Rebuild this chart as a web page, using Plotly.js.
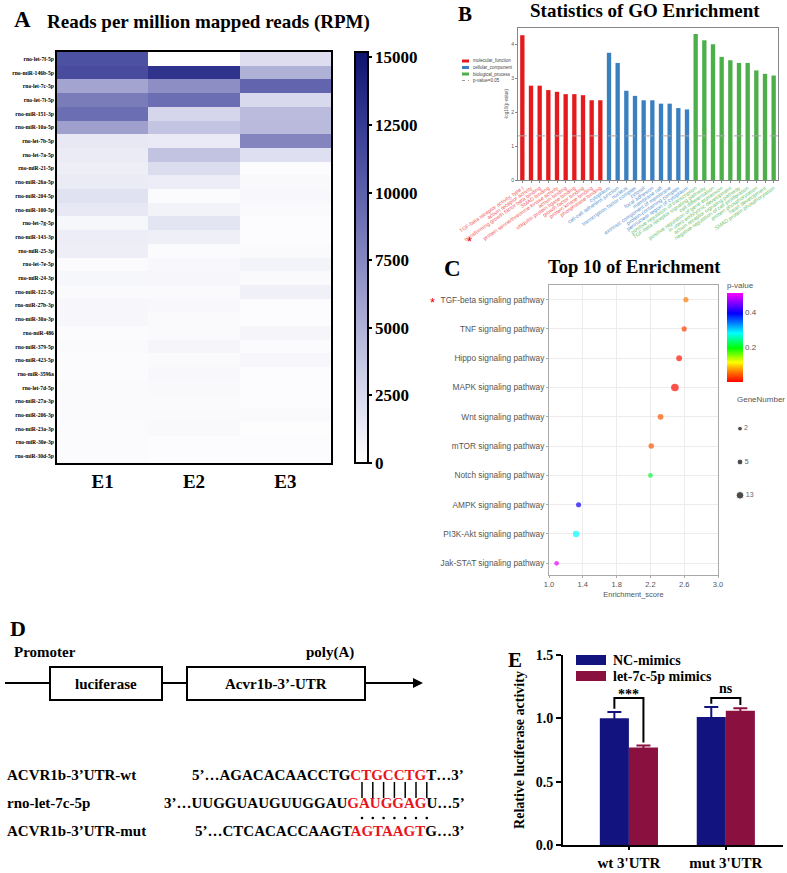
<!DOCTYPE html>
<html><head><meta charset="utf-8">
<script src="https://cdn.plot.ly/plotly-3.0.1.min.js"></script>
<style>html,body{margin:0;padding:0;background:#fff}#chart{width:787px;height:873px}</style>
</head><body><div id="chart"></div>
<script>
// ---------------- DATA ----------------
const mirnas = ['rno-let-7f-5p','rno-miR-146b-5p','rno-let-7c-5p','rno-let-7i-5p','rno-miR-151-3p','rno-miR-10a-5p','rno-let-7b-5p','rno-let-7a-5p','rno-miR-21-5p','rno-miR-26a-5p','rno-miR-204-5p','rno-miR-100-5p','rno-let-7g-5p','rno-miR-143-3p','rno-miR-25-3p','rno-let-7e-5p','rno-miR-24-3p','rno-miR-122-5p','rno-miR-27b-3p','rno-miR-30a-3p','rno-miR-486','rno-miR-379-5p','rno-miR-423-5p','rno-miR-3596a','rno-let-7d-5p','rno-miR-27a-3p','rno-miR-206-3p','rno-miR-23a-3p','rno-miR-30e-3p','rno-miR-30d-5p'];
const samples = ['E1','E2','E3'];
const rpmE1 = [11000,11300,5800,8200,9100,6000,1500,1300,1100,1300,1900,1500,550,1200,1100,250,550,300,600,600,250,300,250,250,300,300,300,250,250,250];
const rpmE2 = [0,13000,7100,9100,2700,3800,1400,3900,2300,1200,250,800,1700,1050,250,450,500,300,450,300,300,650,300,450,400,350,300,400,200,200];
const rpmE3 = [2200,5000,9700,2500,4300,4400,7600,2100,200,400,450,350,200,200,350,750,300,1000,200,200,650,250,500,200,200,200,300,150,200,200];
const rpmTicks = [0,2500,5000,7500,10000,12500,15000];

const goTermsMF = ['TGF-beta receptor activity, type I','activin receptor activity','transforming growth factor beta binding','SMAD binding','protein serine/threonine kinase activity','activin binding','ubiquitin protein ligase binding','growth factor binding','protein kinase binding','phosphatase binding'];
const goValsMF = [4.27,2.78,2.78,2.65,2.60,2.53,2.53,2.50,2.35,2.35];
const goTermsCC = ['cytoplasm','cell-cell adherens junction','nucleus','transcription factor complex','cytosol','focal adhesion','membrane raft','extrinsic component of membrane','protein-containing complex','perinuclear region of cytoplasm'];
const goValsCC = [3.75,3.45,2.63,2.48,2.35,2.35,2.25,2.25,2.12,2.08];
const goTermsBP = ['positive regulation of transcription','TGF-beta receptor signaling pathway','cell differentiation','positive regulation of gene expression','in utero embryonic development','activin receptor signaling pathway','negative regulation of cell proliferation','protein phosphorylation','heart development','SMAD protein phosphorylation'];
const goValsBP = [4.30,4.12,4.00,3.63,3.53,3.45,3.45,3.23,3.13,3.08];
const goLegend = ['molecular_function','cellular_component','biological_process','p-value=0.05'];
const goThreshold = 1.3;

const pathways = ['TGF-beta signaling pathway','TNF signaling pathway','Hippo signaling pathway','MAPK signaling pathway','Wnt signaling pathway','mTOR signaling pathway','Notch signaling pathway','AMPK signaling pathway','PI3K-Akt signaling pathway','Jak-STAT signaling pathway'];
const enrichScore = [2.62,2.60,2.54,2.49,2.32,2.21,2.20,1.35,1.32,1.09];
const pathwayP = [0.06,0.03,0.01,0.005,0.04,0.04,0.21,0.40,0.28,0.50];
const geneNumber = [3,3,5,13,5,4,2,3,7,2];
const geneLegend = [2,5,13];
const enrichTicks = [1.0,1.4,1.8,2.2,2.6,3.0];
const pTicks = [0.2,0.4];

const lucGroups = ["wt 3'UTR","mut 3'UTR"];
const ncMean = [1.00,1.01];
const ncErr = [0.05,0.08];
const letMean = [0.77,1.06];
const letErr = [0.015,0.02];
const sigLabels = ['***','ns'];
const lucTicks = [0,0.5,1.0,1.5];

// ---------------- LAYOUT HELPERS ----------------
const W=787,H=873;
const X=p=>p/W, Y=p=>1-p/H;
const serif='Liberation Serif, Times New Roman, serif';
const sans='Liberation Sans, Arial, sans-serif';
const bf=(size,color)=>({family:serif,size:size,color:color||'#000',weight:'bold'});
const navy='#13137f', maroon='#8a1040';
const goColors=['#e41a1c','#3a80c0','#4daf4a'];
const goTextColors=['#f05a5c','#5b95d0','#6cc26a'];

const traces=[];
// A heatmap
traces.push({type:'heatmap',x:samples,y:mirnas,
  z:mirnas.map((m,i)=>[rpmE1[i],rpmE2[i],rpmE3[i]]),
  xaxis:'x',yaxis:'y',zmin:0,zmax:15200,
  colorscale:[[0,'#ffffff'],[0.164,'#d8d9ed'],[0.329,'#b0b1d7'],[0.493,'#8687c0'],[0.658,'#5d60ab'],[0.822,'#363a93'],[1,'#10136e']],
  colorbar:{x:X(355),xanchor:'left',xpad:0,y:Y(463),yanchor:'bottom',ypad:0,len:(463-52)/H,
    thickness:13,outlinewidth:2,outlinecolor:'#000',ticks:'outside',ticklen:3,tickwidth:2,tickcolor:'#000',
    tickvals:rpmTicks,ticktext:rpmTicks.map(String),tickfont:bf(17)},
  hoverinfo:'skip'});

// B GO bars
const goSets=[[goTermsMF,goValsMF],[goTermsCC,goValsCC],[goTermsBP,goValsBP]];
const allTerms=[].concat(goTermsMF,goTermsCC,goTermsBP);
const allTermText=[];
goSets.forEach(([t,v],k)=>{
  traces.push({type:'bar',x:t,y:v,xaxis:'x2',yaxis:'y2',width:0.5,marker:{color:goColors[k],line:{width:0}},hoverinfo:'skip'});
  t.forEach(s=>allTermText.push('<span style="color:'+goTextColors[k]+'">'+s+'</span>'));
});

// C enrichment scatter
const dot=n=>2.8+1.35*Math.sqrt(n);
traces.push({type:'scatter',mode:'markers',x:enrichScore,y:pathways,xaxis:'x3',yaxis:'y3',
  marker:{color:pathwayP,cmin:0,cmax:0.51,
    colorscale:[[0,'#ff0000'],[0.12,'#ff8000'],[0.22,'#ffff00'],[0.38,'#00ff00'],[0.55,'#00ffff'],[0.77,'#0000ff'],[1,'#ff00ff']],
    size:geneNumber.map(dot),line:{width:0},
    colorbar:{x:X(727),xanchor:'left',xpad:0,y:Y(382),yanchor:'bottom',ypad:0,len:(382-279)/H,thickness:16,
      outlinewidth:0,ticks:'',tickvals:pTicks,ticktext:pTicks.map(String),tickfont:{family:sans,size:8,color:'#555'},
      title:{text:'p-value',side:'top',font:{family:sans,size:8,color:'#555'}}}},
  hoverinfo:'skip'});
traces.push({type:'scatter',mode:'markers+text',x:geneLegend.map(()=>0),y:geneLegend.map(String),xaxis:'x4',yaxis:'y4',
  marker:{color:'#000',size:geneLegend.map(dot)},text:geneLegend.map(String),textposition:'middle right',
  textfont:{family:sans,size:7,color:'#666'},hoverinfo:'skip'});

// E luciferase bars
const lucX=lucGroups.map((g,i)=>i);
traces.push({type:'bar',x:lucX,y:ncMean,xaxis:'x5',yaxis:'y5',offset:-0.3,width:0.3,marker:{color:navy},
  error_y:{type:'data',array:ncErr,color:navy,thickness:2,width:7},hoverinfo:'skip'});
traces.push({type:'bar',x:lucX,y:letMean,xaxis:'x5',yaxis:'y5',offset:0,width:0.3,marker:{color:maroon},
  error_y:{type:'data',array:letErr,color:maroon,thickness:2,width:7},hoverinfo:'skip'});

// ---------------- ANNOTATIONS & SHAPES ----------------
const ann=[], shapes=[];
const A=(x,y,text,font,xa,extra)=>ann.push(Object.assign({xref:'paper',yref:'paper',x:X(x),y:Y(y),text:text,font:font,showarrow:false,xanchor:xa||'center',yanchor:'middle'},extra||{}));
A(12,19,'A',bf(23),'left');
A(208,22,'Reads per million mapped reads (RPM)',bf(19));
A(456,14,'B',bf(21),'left');
A(645,11,'Statistics of GO Enrichment',bf(19));
A(442,268,'C',bf(23),'left');
A(634,267,'Top 10 of Enrichment',bf(18.5));
A(8,628,'D',bf(22),'left');
A(506,660,'E',bf(21),'left');
// red asterisks
A(470,241,'*',{family:sans,size:13,color:'#e00'});
A(432,302,'*',{family:sans,size:13,color:'#e00'});

// GO legend
goLegend.forEach((t,i)=>{
  const yy=61+i*6.5;
  A(471,yy,t,{family:sans,size:4.5,color:'#444'},'left');
  if(i<3) shapes.push({type:'rect',xref:'paper',yref:'paper',x0:X(462),x1:X(469),y0:Y(yy-1.5),y1:Y(yy+1.5),fillcolor:goColors[i],line:{width:0}});
  else shapes.push({type:'line',xref:'paper',yref:'paper',x0:X(462),x1:X(469),y0:Y(yy),y1:Y(yy),line:{color:'#999',width:1,dash:'dot'}});
});
// GO threshold
shapes.push({type:'line',xref:'x2 domain',yref:'y2',x0:0,x1:1,y0:goThreshold,y1:goThreshold,line:{color:'#aaa',width:1,dash:'dash'}});

// Gene number legend title
A(735,400,'GeneNumber',{family:sans,size:8,color:'#555'},'left');

// D construct
const L=(x0,y0,x1,y1,w)=>shapes.push({type:'line',xref:'paper',yref:'paper',x0:X(x0),y0:Y(y0),x1:X(x1),y1:Y(y1),line:{color:'#000',width:w||2}});
const R=(x0,y0,x1,y1)=>shapes.push({type:'rect',xref:'paper',yref:'paper',x0:X(x0),y0:Y(y0),x1:X(x1),y1:Y(y1),line:{color:'#000',width:2},fillcolor:'rgba(0,0,0,0)'});
L(5,683,50,683); R(50,667,162,700); L(162,683,187,683); R(187,667,365,700);
ann.push({xref:'paper',yref:'paper',x:X(423),y:Y(683),ax:-59,ay:0,text:'',showarrow:true,arrowhead:2,arrowsize:1,arrowwidth:2,arrowcolor:'#000'});
A(12,652,'Promoter',bf(15),'left');
A(304,652,'poly(A)',bf(15),'left');
A(106,684,'luciferase',bf(15));
A(276,684,'Acvr1b-3’-UTR',bf(15));
const red=s=>'<span style="color:#e8141b">'+s+'</span>';
A(5,775,'ACVR1b-3’UTR-wt',bf(15),'left');
A(190,775,'5’…AGACACAACCTG'+red('CTGCCTG')+'T…3’',bf(15),'left');
A(5,803,'rno-let-7c-5p',bf(15),'left');
A(162,803,'3’…UUGGUAUGUUGGAU'+red('GAUGGAG')+'U…5’',bf(15),'left');
A(5,831,'ACVR1b-3’UTR-mut',bf(15),'left');
A(193,831,'5’…CTCACACCAAGT'+red('AGTAAGT')+'G…3’',bf(15),'left');
for(let i=0;i<7;i++){
  const xx=362+i*10.8;
  L(xx,782,xx,798,1.5);
  shapes.push({type:'circle',xref:'paper',yref:'paper',x0:X(xx-1.3),x1:X(xx+1.3),y0:Y(816.7),y1:Y(819.3),fillcolor:'#000',line:{width:0}});
}

// E legend
shapes.push({type:'rect',xref:'paper',yref:'paper',x0:X(576),x1:X(606),y0:Y(665),y1:Y(655),fillcolor:navy,line:{width:0}});
shapes.push({type:'rect',xref:'paper',yref:'paper',x0:X(576),x1:X(606),y0:Y(681),y1:Y(671),fillcolor:maroon,line:{width:0}});
A(611,660,'NC-mimics',bf(14),'left');
A(611,676,'let-7c-5p mimics',bf(14),'left');
// brackets
lucX.forEach(i=>{
  const top=1.16,l=i-0.15,r=i+0.15;
  const lb=ncMean[i]+ncErr[i]+0.025, rb=letMean[i]+letErr[i]+0.025;
  shapes.push({type:'path',xref:'x5',yref:'y5',path:'M'+l+','+lb+' L'+l+','+top+' L'+r+','+top+' L'+r+','+rb,line:{color:'#000',width:2}});
  ann.push({xref:'x5',yref:'y5',x:i,y:top,yanchor:'bottom',text:sigLabels[i],showarrow:false,font:bf(14),yshift:sigLabels[i]==='***'?-6:0});
});

// ---------------- LAYOUT ----------------
const layout={
  width:W,height:H,margin:{l:0,r:0,t:0,b:0},paper_bgcolor:'#fff',plot_bgcolor:'rgba(0,0,0,0)',
  showlegend:false,barmode:'overlay',font:{family:sans},
  xaxis:{domain:[X(57),X(331)],anchor:'y',showline:true,mirror:true,linewidth:2,linecolor:'#000',ticks:'',tickfont:bf(19),showgrid:false,zeroline:false,fixedrange:true},
  yaxis:{domain:[Y(463),Y(52)],anchor:'x',autorange:'reversed',showline:true,mirror:true,linewidth:2,linecolor:'#000',ticks:'',
    tickmode:'array',tickvals:mirnas,ticktext:mirnas,tickfont:bf(5.6),showgrid:false,zeroline:false},
  xaxis2:{domain:[X(518),X(778)],anchor:'y2',type:'category',categoryorder:'array',categoryarray:allTerms,
    tickmode:'array',tickvals:allTerms,ticktext:allTermText,tickangle:-35,tickfont:{family:sans,size:5.3},
    showline:true,mirror:true,linecolor:'#888',linewidth:1,ticks:'outside',ticklen:2,tickcolor:'#888',showgrid:false,zeroline:false},
  yaxis2:{domain:[Y(180),Y(28)],anchor:'x2',range:[0,4.48],tickvals:[0,1,2,3,4],tickfont:{family:sans,size:5,color:'#555'},
    showline:true,mirror:true,linecolor:'#888',linewidth:1,ticks:'outside',ticklen:2,tickcolor:'#888',showgrid:false,zeroline:false,
    title:{text:'-log10(p-value)',font:{family:sans,size:4.5,color:'#555'},standoff:2}},
  xaxis3:{domain:[X(549),X(718)],anchor:'y3',range:[1.0,3.0],tickvals:enrichTicks,ticktext:enrichTicks.map(v=>v.toFixed(1)),
    tickfont:{family:sans,size:7.5,color:'#555'},showline:true,mirror:true,linecolor:'#aaa',linewidth:1,ticks:'outside',ticklen:2,tickcolor:'#aaa',
    showgrid:true,gridcolor:'#ececec',zeroline:false,title:{text:'Enrichment_score',font:{family:sans,size:7.5,color:'#555'},standoff:3}},
  yaxis3:{domain:[Y(575),Y(285)],anchor:'x3',type:'category',categoryorder:'array',categoryarray:pathways,range:[9.4,-0.5],
    tickfont:{family:sans,size:8.3,color:'#555'},showline:true,mirror:true,linecolor:'#aaa',linewidth:1,ticks:'outside',ticklen:2,tickcolor:'#aaa',
    showgrid:true,gridcolor:'#ececec',zeroline:false},
  xaxis4:{domain:[X(735),X(780)],anchor:'y4',range:[-0.5,4],visible:false},
  yaxis4:{domain:[Y(512),Y(412)],anchor:'x4',type:'category',range:[2.5,-0.5],visible:false},
  xaxis5:{domain:[X(563),X(783)],anchor:'y5',range:[-0.68,1.59],tickvals:lucX,ticktext:lucGroups,tickfont:bf(15),
    showline:true,linewidth:2,linecolor:'#000',ticks:'outside',ticklen:3,tickwidth:2,tickcolor:'#000',showgrid:false,zeroline:false},
  yaxis5:{domain:[Y(845),Y(655)],anchor:'x5',range:[0,1.5],tickvals:lucTicks,ticktext:lucTicks.map(v=>v.toFixed(1)),tickfont:bf(14),
    showline:true,linewidth:2,linecolor:'#000',ticks:'outside',ticklen:5,tickwidth:2,tickcolor:'#000',showgrid:false,zeroline:false,
    title:{text:'Relative luciferase activity',font:bf(14),standoff:8}},
  annotations:ann,shapes:shapes
};
Plotly.newPlot('chart',traces,layout,{staticPlot:true});
</script></body></html>
